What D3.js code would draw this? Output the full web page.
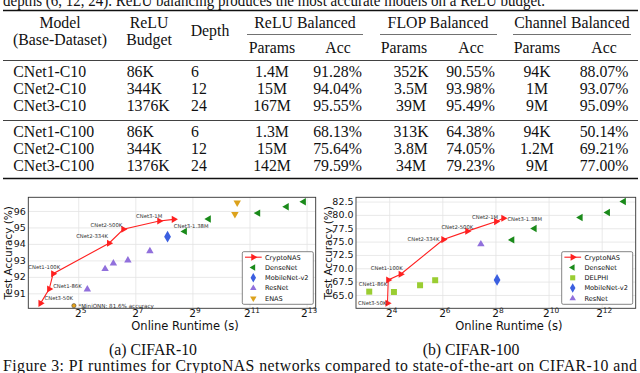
<!DOCTYPE html>
<html>
<head>
<meta charset="utf-8">
<script src="https://cdn.jsdelivr.net/npm/d3@7"></script>
<style>
  body { margin: 0; background: #fff; }
  svg { display: block; }
  .serif { font-family: "Liberation Serif", "Times New Roman", serif; fill: #111; }
  .sans { font-family: "DejaVu Sans", sans-serif; }
</style>
</head>
<body>
<svg id="fig" width="640" height="373"></svg>
<script>
// ----- Table data -----
const tableModels  = ["CNet1-C10", "CNet2-C10", "CNet3-C10", "CNet1-C100", "CNet2-C100", "CNet3-C100"];
const tableBudgets = ["86K", "344K", "1376K", "86K", "344K", "1376K"];
const tableDepths  = ["6", "12", "24", "6", "12", "24"];
const reluParams   = ["1.4M", "15M", "167M", "1.3M", "15M", "142M"];
const reluAcc      = ["91.28%", "94.04%", "95.55%", "68.13%", "75.64%", "79.59%"];
const flopParams   = ["352K", "3.5M", "39M", "313K", "3.8M", "34M"];
const flopAcc      = ["90.55%", "93.98%", "95.49%", "64.38%", "74.05%", "79.23%"];
const chanParams   = ["94K", "1M", "9M", "94K", "1.2M", "9M"];
const chanAcc      = ["88.07%", "93.07%", "95.09%", "50.14%", "69.21%", "77.00%"];

// ----- CIFAR-10 chart data (runtime in s, accuracy in %) -----
const c10CryptoNames   = ["CNet3-50K", "CNet1-86K", "CNet1-100K", "CNet2-334K", "CNet2-500K", "CNet3-1M", "CNet3-1.38M"];
const c10CryptoRuntime = [12.8, 15.8, 17.4, 67.6, 95.7, 229, 326];
const c10CryptoAcc     = [90.39, 91.26, 92.19, 94.04, 94.89, 95.39, 95.49];
const c10DenseRuntime  = [425, 760, 2521, 5042, 7643];
const c10DenseAcc      = [94.76, 95.51, 95.87, 96.26, 96.56];
const c10MobileRuntime = [280];
const c10MobileAcc     = [94.44];
const c10ResRuntime    = [39.9, 61.4, 75.1, 106.9, 182.3];
const c10ResAcc        = [91.24, 92.48, 92.82, 93.0, 93.57];
const c10EnasRuntime   = [1520, 1438];
const c10EnasAcc       = [96.5, 95.81];
const c10MiniRuntime   = [28.8];
const c10MiniAcc       = [81.6];
const c10YTicks        = [91, 92, 93, 94, 95, 96];
const c10XTickExps     = [5, 7, 9, 11, 13];

// ----- CIFAR-100 chart data -----
const c100CryptoNames   = ["CNet3-50K", "CNet1-86K", "CNet1-100K", "CNet2-334K", "CNet2-500K", "CNet2-1M", "CNet3-1.38M"];
const c100CryptoRuntime = [15.3, 15.6, 21.6, 65.8, 122.8, 261, 315];
const c100CryptoAcc     = [63.44, 67.81, 68.88, 75.38, 76.96, 78.75, 79.38];
const c100DenseRuntime  = [396, 709, 2353, 4804, 7281];
const c100DenseAcc      = [75.32, 77.44, 79.5, 80.44, 82.5];
const c100DelphiRuntime = [9.5, 18.1, 35.8, 53.1];
const c100DelphiAcc     = [65.62, 65.56, 66.82, 67.76];
const c100MobileRuntime = [267];
const c100MobileAcc     = [67.81];
const c100ResRuntime    = [175];
const c100ResAcc        = [74.51];
const c100YTicks        = [65, 67.5, 70, 72.5, 75, 77.5, 80, 82.5];
const c100XTickExps     = [4, 6, 8, 10, 12];

// annotation placement (dx, dy, anchor) for each CryptoNAS label
const c10LabelPos  = [[4, -3, "start"], [4, -1, "start"], [7, -5, "end"], [-1, -5, "end"], [-1, -2, "end"], [3, -3, "end"], [0, 9, "start"]];
const c100LabelPos = [[-1, 2, "end"], [-1, 6, "end"], [2, -4, "end"], [-4, 1, "end"], [6, -2, "end"], [2, -3, "end"], [4, 3, "start"]];

const zip = (xs, ys) => xs.map((v, i) => ({ x: v, y: ys[i] }));

const colors = {
  crypto: "#ff2020", dense: "#1a8a1a", mobile: "#3b5fe0",
  res: "#9170dc", enas: "#dca21c", delphi: "#9acd32", mini: "#e8a317"
};

const svg = d3.select("#fig");

// ----- Table -----
const tbl = svg.append("g").attr("class", "serif").style("font-size", "15.8px");

tbl.append("text").attr("x", 3).attr("y", 5.5).attr("textLength", 542).attr("lengthAdjust", "spacingAndGlyphs")
  .text("depths (6, 12, 24). ReLU balancing produces the most accurate models on a ReLU budget.");

const rule = (x1, x2, y, w) => tbl.append("line")
  .attr("x1", x1).attr("x2", x2).attr("y1", y).attr("y2", y)
  .attr("stroke", "#111").attr("stroke-width", w);

rule(3, 638, 10.5, 1.4);
rule(247, 363, 34.5, 0.6);
rule(380, 497, 34.5, 0.6);
rule(513, 631, 34.5, 0.6);
rule(3, 638, 60.5, 0.8);
rule(3, 638, 120.5, 0.8);
rule(3, 638, 178.5, 1.4);

const headers = [
  ["Model", 60, 28], ["(Base-Dataset)", 60, 44.5], ["ReLU", 149, 28], ["Budget", 149, 45],
  ["Depth", 210, 35.5], ["ReLU Balanced", 305, 27.5], ["FLOP Balanced", 438, 27.5], ["Channel Balanced", 572, 27.5],
  ["Params", 272, 52.5], ["Acc", 338, 52.5], ["Params", 404, 52.5], ["Acc", 471, 52.5],
  ["Params", 537, 52.5], ["Acc", 604, 52.5]
];
tbl.selectAll("text.hd").data(headers).join("text").attr("class", "hd")
  .attr("x", d => d[1]).attr("y", d => d[2]).attr("text-anchor", "middle").text(d => d[0]);

const rowY = [77.2, 94.2, 111.2, 137.2, 154.2, 171.2];
const columns = [
  { vals: tableModels, x: 13.3, anchor: "start" },
  { vals: tableBudgets, x: 126.7, anchor: "start" },
  { vals: tableDepths, x: 191, anchor: "start" },
  { vals: reluParams, x: 272, anchor: "middle" },
  { vals: reluAcc, x: 337.5, anchor: "middle" },
  { vals: flopParams, x: 411, anchor: "middle" },
  { vals: flopAcc, x: 470.5, anchor: "middle" },
  { vals: chanParams, x: 537, anchor: "middle" },
  { vals: chanAcc, x: 604, anchor: "middle" }
];
columns.forEach(c => {
  tbl.append("g").selectAll("text").data(c.vals).join("text")
    .attr("x", c.x).attr("y", (d, i) => rowY[i]).attr("text-anchor", c.anchor).text(d => d);
});

// ----- Charts -----
function symbolPath(type, size) {
  return d3.symbol(type, size)();
}

function drawChart(o) {
  const g = svg.append("g").attr("class", "sans");
  const x = d3.scaleLog().base(2).domain(o.xDomain).range(o.xRange);
  const y = d3.scaleLinear().domain(o.yDomain).range(o.yRange);
  const [x0, x1] = o.xRange, [y1, y0] = o.yRange;

  // grid via axes
  const yAxis = g.append("g").attr("transform", `translate(${x0},0)`)
    .call(d3.axisLeft(y).tickValues(o.yTicks).tickSize(-(x1 - x0)).tickPadding(2.5)
      .tickFormat(o.yFormat));
  yAxis.select(".domain").remove();
  yAxis.selectAll("line").attr("stroke", "#e3e3e3").attr("stroke-width", 0.8);
  yAxis.selectAll("text").attr("fill", "#111").style("font-size", "9.5px").style("font-family", "DejaVu Sans");

  const xAxis = g.append("g").attr("transform", `translate(0,${y1})`)
    .call(d3.axisBottom(x).tickValues(o.xTicks.map(e => 2 ** e)).tickSize(-(y1 - y0)).tickFormat(""));
  xAxis.select(".domain").remove();
  xAxis.selectAll("line").attr("stroke", "#e3e3e3").attr("stroke-width", 0.8);
  const tl = xAxis.selectAll(".tick").append("text")
    .attr("x", 2).attr("y", 9).attr("text-anchor", "middle").attr("fill", "#111")
    .style("font-size", "10.5px").style("font-family", "DejaVu Sans");
  tl.append("tspan").text("2");
  tl.append("tspan").attr("dy", -4.6).style("font-size", "7.4px").text((d) => Math.round(Math.log2(d)));

  // frame
  g.append("rect").attr("x", x0).attr("y", y0).attr("width", x1 - x0).attr("height", y1 - y0)
    .attr("fill", "none").attr("stroke", "#333").attr("stroke-width", 0.9);

  // axis titles
  g.append("text").attr("x", (x0 + x1) / 2 + 13).attr("y", 329.5).attr("text-anchor", "middle")
    .style("font-size", "11.5px").attr("fill", "#111").text("Online Runtime (s)");
  g.append("text").attr("transform", `translate(${o.yLabelX},${(y0 + y1) / 2}) rotate(-90)`)
    .attr("text-anchor", "middle").attr("dominant-baseline", "central")
    .style("font-size", "10.5px").attr("fill", "#111").text("Test Accuracy (%)");

  // scatter series
  o.series.forEach(s => {
    const yy = s.clampOffset != null ? d => Math.max(y.range()[1], Math.min(y1, y(d.y))) + s.clampOffset : d => y(d.y);
    g.append("g").selectAll("path").data(s.points).join("path")
      .attr("d", symbolPath(s.type, s.size))
      .attr("transform", d => `translate(${x(d.x)},${yy(d)}) rotate(${s.rot || 0})`)
      .attr("fill", s.color)
      .attr("stroke", s.stroke || "none").attr("stroke-width", s.stroke ? 0.6 : 0);
    if (s.note) {
      g.append("text").data(s.points)
        .attr("x", d => x(d.x) + 4.5).attr("y", d => yy(d) + 2)
        .style("font-size", "5.6px").attr("fill", "#333").text(s.note);
    }
  });

  // CryptoNAS line
  const pts = zip(o.crypto.runtime, o.crypto.acc);
  g.append("path").datum(pts)
    .attr("d", d3.line().x(d => x(d.x)).y(d => y(d.y)))
    .attr("fill", "none").attr("stroke", colors.crypto).attr("stroke-width", 1.1);
  g.append("g").selectAll("path").data(pts).join("path")
    .attr("d", symbolPath(d3.symbolTriangle, 22))
    .attr("transform", d => `translate(${x(d.x)},${y(d.y)}) rotate(90)`)
    .attr("fill", colors.crypto);
  g.append("g").selectAll("text").data(pts).join("text")
    .attr("x", (d, i) => x(d.x) + o.labelPos[i][0])
    .attr("y", (d, i) => y(d.y) + o.labelPos[i][1])
    .attr("text-anchor", (d, i) => o.labelPos[i][2])
    .style("font-size", "5.3px").attr("fill", "#333")
    .text((d, i) => o.crypto.names[i]);

  // legend
  const lx = o.legend.x, ly = o.legend.y;
  const lg = g.append("g");
  lg.append("rect").attr("x", lx).attr("y", ly).attr("width", 71).attr("height", 52.6)
    .attr("rx", 1.5).attr("fill", "#fff").attr("stroke", "#666").attr("stroke-width", 0.8);
  const items = lg.selectAll("g").data(o.legend.items).join("g")
    .attr("transform", (d, i) => `translate(${lx},${ly + 5.5 + i * 10.3})`);
  items.filter(d => d.line).append("line")
    .attr("x1", 2.7).attr("x2", 19.4).attr("stroke", colors.crypto).attr("stroke-width", 1.1);
  items.append("path")
    .attr("d", d => symbolPath(d.type, d.size))
    .attr("transform", d => `translate(11,0) rotate(${d.rot || 0})`)
    .attr("fill", d => d.color);
  items.append("text").attr("x", 22.7).attr("dy", "0.35em")
    .style("font-size", "6.6px").attr("fill", "#111").text(d => d.name);
}

const legendCrypto = { name: "CryptoNAS", type: d3.symbolTriangle, size: 22, rot: 90, color: colors.crypto, line: true };
const legendDense  = { name: "DenseNet", type: d3.symbolTriangle, size: 18, rot: -90, color: colors.dense };
const legendMobile = { name: "MobileNet-v2", type: d3.symbolDiamond, size: 26, color: colors.mobile };
const legendRes    = { name: "ResNet", type: d3.symbolTriangle, size: 18, color: colors.res };
const legendEnas   = { name: "ENAS", type: d3.symbolTriangle, size: 18, rot: 180, color: colors.enas };
const legendDelphi = { name: "DELPHI", type: d3.symbolSquare, size: 26, color: colors.delphi };

drawChart({
  xDomain: [2 ** 3.25, 2 ** 13.32], xRange: [28.3, 315.7],
  yDomain: [90.09, 96.83], yRange: [308.3, 197.3],
  yTicks: c10YTicks, xTicks: c10XTickExps, yFormat: d3.format("d"), yLabelX: 7.5,
  crypto: { names: c10CryptoNames, runtime: c10CryptoRuntime, acc: c10CryptoAcc },
  labelPos: c10LabelPos,
  series: [
    { points: zip(c10DenseRuntime, c10DenseAcc), type: d3.symbolTriangle, size: 24, rot: -90, color: colors.dense },
    { points: zip(c10MobileRuntime, c10MobileAcc), type: d3.symbolDiamond, size: 40, color: colors.mobile },
    { points: zip(c10ResRuntime, c10ResAcc), type: d3.symbolTriangle, size: 24, color: colors.res },
    { points: zip(c10EnasRuntime, c10EnasAcc), type: d3.symbolTriangle, size: 24, rot: 180, color: colors.enas },
    { points: zip(c10MiniRuntime, c10MiniAcc), type: d3.symbolCircle, size: 14, color: colors.mini, stroke: "#444",
      clampOffset: -2.6, note: "*MiniONN: 81.6% accuracy" }
  ],
  legend: { x: 242.3, y: 251.7, items: [legendCrypto, legendDense, legendMobile, legendRes, legendEnas] }
});

drawChart({
  xDomain: [2 ** 2.75, 2 ** 13.28], xRange: [356, 635.7],
  yDomain: [62.5, 83.3], yRange: [308.3, 197.3],
  yTicks: c100YTicks, xTicks: c100XTickExps, yFormat: d3.format(".1f"), yLabelX: 327.5,
  crypto: { names: c100CryptoNames, runtime: c100CryptoRuntime, acc: c100CryptoAcc },
  labelPos: c100LabelPos,
  series: [
    { points: zip(c100DenseRuntime, c100DenseAcc), type: d3.symbolTriangle, size: 24, rot: -90, color: colors.dense },
    { points: zip(c100DelphiRuntime, c100DelphiAcc), type: d3.symbolSquare, size: 36, color: colors.delphi },
    { points: zip(c100MobileRuntime, c100MobileAcc), type: d3.symbolDiamond, size: 40, color: colors.mobile },
    { points: zip(c100ResRuntime, c100ResAcc), type: d3.symbolTriangle, size: 24, color: colors.res }
  ],
  legend: { x: 561.7, y: 251.7, items: [legendCrypto, legendDense, legendDelphi, legendMobile, legendRes] }
});

// ----- Captions -----
const cap = svg.append("g").attr("class", "serif").style("font-size", "15.8px");
cap.append("text").attr("x", 153).attr("y", 355).attr("text-anchor", "middle").text("(a) CIFAR-10");
cap.append("text").attr("x", 471).attr("y", 355).attr("text-anchor", "middle").text("(b) CIFAR-100");
cap.append("text").attr("x", 3).attr("y", 370.5).attr("textLength", 634).attr("lengthAdjust", "spacing")
  .text("Figure 3: PI runtimes for CryptoNAS networks compared to state-of-the-art on CIFAR-10 and");
</script>
</body>
</html>
